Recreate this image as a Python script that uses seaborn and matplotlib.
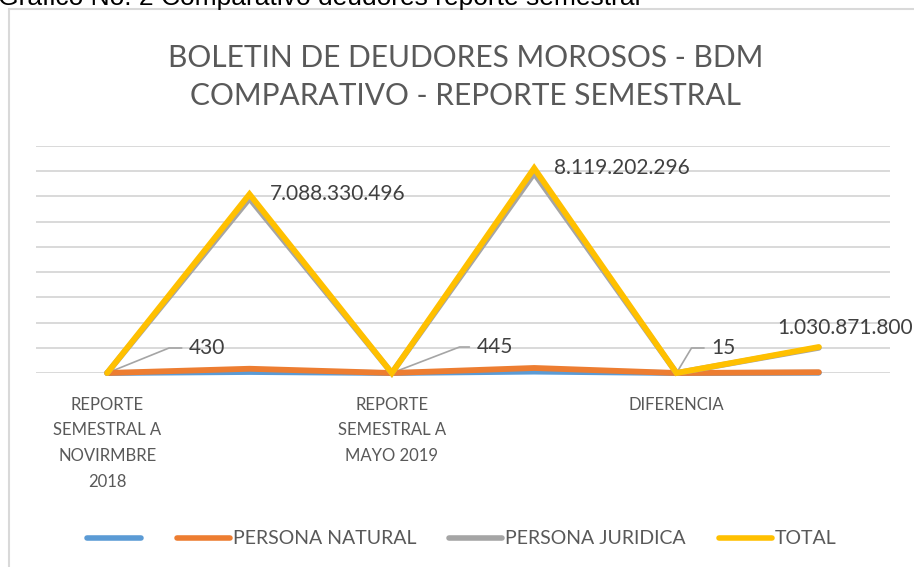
import numpy as np
import pandas as pd
import matplotlib
matplotlib.use("Agg")
import matplotlib.pyplot as plt
from matplotlib.lines import Line2D
import seaborn as sns

# data
categorias = ["REPORTE\nSEMESTRAL A\nNOVIRMBRE\n2018", "REPORTE\nSEMESTRAL A\nMAYO 2019", "DIFERENCIA"]
posiciones = [0, 1, 2, 3, 4, 5]
serie_blanca = [0, 40000000, 0, 55000000, 0, 10000000]
persona_natural = [180, 168000000, 185, 199000000, 5, 31000000]
persona_juridica = [250, 6920000000, 260, 7920000000, 10, 1000000000]
total = [430, 7088330496, 445, 8119202296, 15, 1030871800]
etiquetas_total = ["430", "7.088.330.496", "445", "8.119.202.296", "15", "1.030.871.800"]

series = [
    ("", serie_blanca, "#5B9BD5"),
    ("PERSONA NATURAL", persona_natural, "#ED7D31"),
    ("PERSONA JURIDICA", persona_juridica, "#A5A5A5"),
    ("TOTAL", total, "#FFC000"),
]

sns.set_style("white")
plt.rcParams["font.family"] = ["Lato", "DejaVu Sans"]

W, H = 914, 567
fig = plt.figure(figsize=(W / 100, H / 100), dpi=100)
ax = fig.add_axes([36 / W, 1 - 373 / H, (890 - 36) / W, (373 - 146) / H])

handles = []
for i, (nombre, valores, color) in enumerate(series):
    df = pd.DataFrame({"pos": posiciones, "valor": valores})
    sns.lineplot(data=df, x="pos", y="valor", ax=ax, color=color, linewidth=4.2,
                 solid_capstyle="round", solid_joinstyle="miter",
                 zorder=3 + i, clip_on=False)
    handles.append(ax.lines[-1])

ax.set_xlim(-0.5, 5.5)
ax.set_ylim(0, 9e9)
ax.set_yticks(np.arange(0, 9e9 + 1, 1e9))
ax.yaxis.grid(True, color="#D9D9D9", linewidth=1.4)
ax.xaxis.grid(False)
ax.set_yticklabels([])
ax.tick_params(axis="y", length=0)
ax.set_xticks([0, 2, 4])
ax.set_xticklabels(categorias, fontsize=12, color="#595959", linespacing=1.75)
ax.tick_params(axis="x", length=0, pad=17)
ax.set_xlabel("")
ax.set_ylabel("")
for s in ax.spines.values():
    s.set_visible(False)

# data labels for the TOTAL series
txt_kw = dict(fontsize=15, color="#404040", textcoords="offset points")
px = 0.72
for pos, etiqueta in zip([1, 3], [etiquetas_total[1], etiquetas_total[3]]):
    ax.annotate(etiqueta, xy=(pos, total[pos]), xytext=(20 * px, 0),
                ha="left", va="center", **txt_kw)
ax.annotate(etiquetas_total[5], xy=(5, total[5]), xytext=(-42 * px, 19 * px),
            ha="left", va="center", **txt_kw)
for pos, dx, dy, ang in [(0, 82, 25, 22), (2, 85, 26, 21), (4, 35, 25, 59)]:
    ax.annotate(etiquetas_total[pos], xy=(pos, total[pos]), xytext=(dx * px, dy * px),
                ha="left", va="center",
                arrowprops=dict(arrowstyle="-", color="#A5A5A5", lw=1.2,
                                shrinkA=3, shrinkB=0,
                                connectionstyle=f"angle,angleA=0,angleB={ang},rad=0"),
                **txt_kw)

fig.suptitle("BOLETIN DE DEUDORES MOROSOS - BDM\nCOMPARATIVO - REPORTE SEMESTRAL",
             x=466 / W, y=1 - 44 / H, va="top", fontsize=21.5, color="#595959",
             linespacing=1.45)

leg = ax.legend(handles, [s[0] for s in series], loc="center",
                bbox_to_anchor=(462 / W, 1 - 539 / H),
                bbox_transform=fig.transFigure, ncol=4, frameon=False,
                fontsize=14, handlelength=2.73, handletextpad=0.15,
                columnspacing=1.7, labelcolor="#595959")
for h in leg.get_lines():
    h.set_linewidth(4.0)
    h.set_solid_capstyle("round")

# chart border and caption above it
fig.add_artist(Line2D([8.5 / W, 8.5 / W], [0, 1 - 9 / H], color="#D9D9D9", lw=1.5,
                      transform=fig.transFigure))
fig.add_artist(Line2D([8.5 / W, 1], [1 - 9 / H, 1 - 9 / H], color="#D9D9D9", lw=1.5,
                      transform=fig.transFigure))
fig.text(-2 / W, 1 - 5 / H, "Gráfico No. 2 Comparativo deudores reporte semestral",
         family=["Liberation Sans", "DejaVu Sans"], fontsize=19, color="black",
         va="baseline", ha="left")

fig.savefig("out.png", dpi=100)
plt.close(fig)
